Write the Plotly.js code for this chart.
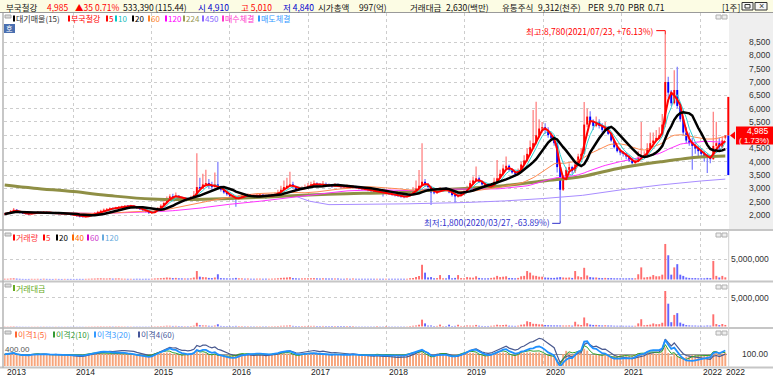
<!DOCTYPE html>
<html><head><meta charset="utf-8">
<script src="https://cdn.plot.ly/plotly-3.0.1.min.js"></script>
<style>html,body{margin:0;padding:0;background:#fff;overflow:hidden;}#chart{width:773px;height:377px;}</style>
</head><body><div id="chart"></div>
<script>
// ---------------- DATA (bi-weekly candles) ----------------
const startDate = '2013-02-15';
const stepDays = 14;
const open = [
2020,2040,2080,2150,2200,2130,2080,2060,2050,2030,2070,2090,2100,2080,2110,2090,2070,2060,2080,2050,2040,2060,2030,
2010,1990,1960,1940,1930,1950,1990,2040,2080,2120,2160,2200,2230,2250,2240,2280,2300,2320,2340,2330,2350,2310,2260,2220,2180,2120,
2080,2090,2150,2250,2350,2450,2600,2700,2680,2720,2650,2600,2620,2600,2650,2750,3050,3000,3150,3200,3100,3050,3150,3000,2950,2850,
2780,2700,2620,2600,2680,2720,2700,2750,2720,2700,2740,2760,2730,2700,2720,2750,2780,2850,2950,3050,3100,3150,3050,2980,2950,3000,
3050,3100,3150,3180,3150,3120,3170,3130,3100,3080,3120,3100,3060,3050,3080,3040,3070,3020,3000,2980,2960,2940,2900,2880,2920,2860,
2830,2850,2800,2780,2750,2720,2700,2680,2720,2800,2900,3000,3100,3250,3150,3050,2850,2820,2900,2950,2960,2950,2850,2750,2700,2720,
2800,2900,3050,3200,3300,3380,3250,3150,3080,3050,3100,3250,3380,3550,3750,3850,3700,3600,3550,3650,3900,4050,4300,4550,4700,5000,
5250,5300,5200,5000,4900,4700,3800,2950,3400,3700,3800,3650,3900,4200,4300,5400,5700,5500,5350,5500,5350,5200,5300,5050,4800,4550,
4400,4350,4300,4200,4050,3950,4000,4150,4200,4250,4500,4700,4800,4900,5000,5400,7000,6600,6200,6700,6100,5600,5100,4800,4700,4600,4500,
4400,4300,4200,4150,4100,4600,4700,4550,4910];
const high = [
2070,2110,2190,2260,2220,2150,2100,2080,2070,2100,2120,2140,2120,2150,2130,2110,2090,2120,2100,2070,2090,2080,2050,
2030,2000,1990,1970,1980,2020,2070,2110,2160,2200,2240,2260,2290,2280,2310,2340,2360,2380,2370,2390,2370,2320,2280,2240,2200,2140,
2120,2200,2300,2400,2520,2700,2780,2800,2850,2750,2700,2680,2660,2720,2900,4320,3400,3550,3700,3350,3250,3600,4000,3100,3000,2900,
2820,2740,2680,2750,2800,2780,2820,2790,2760,2800,2820,2790,2760,2780,2800,2850,2950,3100,3300,3400,3630,3250,3100,3050,3080,3150,
3200,3250,3300,3230,3200,3280,3220,3180,3150,3200,3180,3130,3100,3150,3110,3120,3100,3060,3050,3020,3000,2970,2940,2980,2950,2900,
2900,2880,2850,2820,2800,2760,2740,2780,2900,3050,3300,3690,4700,3350,3200,3100,2950,2980,3050,3000,3050,2980,2880,2800,2800,2900,
2960,3100,3300,3450,3820,3450,3300,3200,3150,3200,3400,4070,3700,3900,4200,3900,3750,3650,3750,4000,4250,4500,4800,5950,6260,5600,
5500,5450,5300,5100,5000,4750,3900,3500,3800,3950,3850,3950,4300,4500,6250,6000,5900,5600,5700,5600,5450,5500,5350,5100,4850,4600,
4500,4400,4350,4250,4150,4100,4400,5500,4400,4700,5100,5100,5200,5300,5800,8780,7200,6700,7440,7570,6200,5700,5300,5100,4900,4700,4600,
4500,4400,4300,4250,5880,5510,4900,4950,5010];
const low = [
2000,2030,2070,2130,2110,2060,2040,2020,2000,2020,2050,2070,2050,2070,2070,2040,2030,2050,2020,2010,2030,2000,1980,
1970,1930,1910,1900,1910,1940,1980,2030,2060,2100,2140,2180,2210,2200,2220,2260,2280,2300,2290,2300,2280,2230,2190,2150,2090,2040,
2040,2080,2140,2230,2320,2430,2580,2620,2650,2600,2550,2560,2560,2580,2630,2740,2900,2980,3100,3000,2950,3030,2950,2880,2800,2720,
2650,2550,2310,2580,2650,2660,2680,2680,2640,2680,2710,2680,2600,2670,2700,2730,2760,2830,2930,3000,3050,3000,2900,2900,2930,2980,
3030,3080,3100,3080,3050,3100,3080,3050,3020,3060,3050,3000,2990,3030,2990,3020,2980,2960,2940,2920,2890,2850,2820,2860,2820,2700,
2780,2750,2720,2700,2680,2650,2630,2660,2700,2780,2880,2980,3080,3050,2950,2380,2780,2800,2880,2880,2900,2820,2700,2450,2660,2700,
2780,2880,3020,3150,3250,3200,3100,3020,3000,3030,3080,3230,3350,3500,3700,3650,3550,3450,3530,3620,3880,4000,4250,4500,4650,4900,
5100,5050,4900,4800,4600,3600,1800,2900,3350,3600,3550,3580,3850,4100,4280,5300,5400,5200,5300,5250,5100,5150,5000,4750,4500,4350,
4250,4200,4100,4000,3900,3820,3980,4100,4150,4200,4450,4650,4750,4850,4950,5300,6400,6100,6150,6000,5500,5000,4700,4600,3700,4300,4200,
4150,4000,3580,3950,4080,4500,4400,4500,4840];
const close = [
2040,2080,2150,2200,2130,2080,2060,2050,2030,2070,2090,2100,2080,2110,2090,2070,2060,2080,2050,2040,2060,2030,2010,
1990,1960,1940,1930,1950,1990,2040,2080,2120,2160,2200,2230,2250,2240,2280,2300,2320,2340,2330,2350,2310,2260,2220,2180,2120,2080,
2090,2150,2250,2350,2450,2600,2700,2680,2720,2650,2600,2620,2600,2650,2750,3050,3000,3150,3200,3100,3050,3150,3000,2950,2850,2780,
2700,2620,2600,2680,2720,2700,2750,2720,2700,2740,2760,2730,2700,2720,2750,2780,2850,2950,3050,3100,3150,3050,2980,2950,3000,3050,
3100,3150,3180,3150,3120,3170,3130,3100,3080,3120,3100,3060,3050,3080,3040,3070,3020,3000,2980,2960,2940,2900,2880,2920,2860,2830,
2850,2800,2780,2750,2720,2700,2680,2720,2800,2900,3000,3100,3250,3150,3050,2850,2820,2900,2950,2960,2950,2850,2750,2700,2720,2800,
2900,3050,3200,3300,3380,3250,3150,3080,3050,3100,3250,3380,3550,3750,3850,3700,3600,3550,3650,3900,4050,4300,4550,4700,5000,5250,
5300,5200,5000,4900,4700,3800,2950,3400,3700,3800,3650,3900,4200,4300,5400,5700,5500,5350,5500,5350,5200,5300,5050,4800,4550,4400,
4350,4300,4200,4050,3950,4000,4150,4200,4250,4500,4700,4800,4900,5000,5400,7000,6600,6200,6700,6100,5600,5100,4800,4700,4600,4500,4400,
4300,4200,4150,4100,4600,4700,4550,4800,4985];
const volumeK = [
180,200,260,300,220,180,150,140,150,170,160,180,150,200,160,150,140,170,150,140,160,150,150,
140,150,160,150,170,190,220,240,280,300,260,250,300,220,260,280,220,200,180,180,170,190,180,170,190,180,
200,260,300,350,400,500,450,350,400,300,280,260,250,300,500,2100,700,600,550,400,350,500,1300,350,300,280,
260,280,400,300,280,220,250,200,200,220,230,200,220,200,220,250,300,400,450,500,600,350,300,250,280,300,
300,320,350,280,250,300,260,250,230,260,240,220,210,240,210,230,200,200,190,190,180,200,190,220,200,200,
220,200,190,190,180,180,180,220,300,400,600,900,3650,1700,500,600,300,350,1100,300,280,1100,300,400,1100,350,
300,600,500,450,800,400,300,280,300,400,500,900,600,700,800,400,350,300,400,800,900,2100,1700,1000,900,700,
700,500,450,400,400,500,600,500,450,500,400,2100,800,600,2900,1000,600,500,500,400,350,400,350,350,300,300,
300,280,280,300,300,300,1300,3000,500,600,700,1100,800,800,1200,8800,6000,1200,3000,3800,1200,900,500,400,350,350,300,
300,300,400,350,4600,900,500,900,533];
// long moving averages
const ma224Dates = ['2013-02-15','2013-07-01','2014-01-01','2014-07-01','2015-01-01','2015-07-01','2016-01-01','2016-07-01','2017-01-01','2017-07-01','2018-01-01','2018-07-01','2019-01-01','2019-07-01','2020-01-01','2020-07-01','2021-01-01','2021-07-01','2022-01-01','2022-04-29'];
const ma224Values = [3130,3010,2880,2720,2600,2580,2620,2680,2750,2800,2840,2920,3000,3100,3280,3450,3780,4000,4180,4220];
const ma450Dates = ['2016-11-04','2017-01-06','2017-04-07','2017-10-06','2018-04-06','2019-01-04','2019-07-05','2020-01-03','2020-07-03','2021-01-01','2021-07-02','2022-01-07','2022-04-29'];
const ma450Values = [2700,2520,2390,2400,2420,2470,2530,2620,2740,2950,3130,3280,3350];
const xLabelDates = ['2013-02-12','2014-01-01','2015-01-01','2016-01-01','2017-01-01','2018-01-01','2019-01-01','2020-01-01','2021-01-01','2022-01-01','2022-04-22'];
const xLabelTexts = ['2013','2014','2015','2016','2017','2018','2019','2020','2021','2022','2022'];
const priceTicks = [2000,2500,3000,3500,4000,4500,5000,5500,6000,6500,7000,7500,8000,8500];
const rangeBar = [3500, 6440];
const highLabel = '최고:8,780(2021/07/23, +76.13%)';
const lowLabel = '최저:1,800(2020/03/27, -63.89%)';
const headerItems = [
  ['부국철강',6,'#111'],['4,985',47,'#f00'],['▲35',75,'#f00'],['0.71%',95,'#f00'],
  ['533,390',123,'#111'],['(115.44)',155,'#111'],['시 4,910',198,'#00c'],['고 5,010',241,'#f00'],
  ['저 4,840',283,'#00c'],['시가총액',318,'#111'],['997(억)',359,'#111'],['거래대금',410,'#111'],
  ['2,630(백만)',446,'#111'],['유통주식',502,'#111'],['9,312(천주)',538,'#111'],['PER',588,'#111'],
  ['9.70',608,'#111'],['PBR',628,'#111'],['0.71',648,'#111'],['[1주]',722,'#111']];
const mainLegend = [['대기매물(15)','#000','#333',13],['부국철강','#f00','#f00',68],['5','#f00','#f00',106],['10','#00c8c8','#20bcbc',115],['20','#000','#000',132],['60','#ff7f27','#ff7f27',148],['120','#ff00ff','#ff00ff',165],['224','#999955','#999955',183],['450','#8866ff','#8866ff',202],['매수체결','#ff33cc','#ff33cc',222],['매도체결','#3399ff','#3399ff',258]];
const volLegend = [['거래량','#f00','#f33',13],['5','#f00','#f33',43],['20','#000','#000',56],['40','#ff6600','#ff6600',72],['60','#cc00cc','#cc33cc',87],['120','#66aadd','#66aadd',102]];
const amtLegend = [['거래대금','#66aa22','#66aa22',13]];
const oscLegend = [['이격1(5)','#ff6633','#ff6633',15],['이격2(10)','#339933','#339933',53],['이격3(20)','#3399ff','#3399ff',94],['이격4(60)','#445599','#445599',138]];

// ---------------- helpers ----------------
const W=773,H=377;
const px=x=>x/W, py=y=>1-y/H;
const KR="'Noto Sans CJK KR', 'Noto Sans', sans-serif";
const NUM="'Liberation Sans', Arial, sans-serif";
function addDays(s,n){const d=new Date(s+'T00:00:00Z');d.setUTCDate(d.getUTCDate()+n);return d.toISOString().slice(0,10);}
const dates = close.map((_,i)=>addDays(startDate,i*stepDays));
function sma(arr,n){return arr.map((_,i)=>{const s=Math.max(0,i-n+1);let t=0;for(let k=s;k<=i;k++)t+=arr[k];return t/(i-s+1);});}
const DAY=86400000;
const up = close.map((c,i)=>c>=open[i]);
const volume = volumeK.map(v=>v*1000);
const amount = volume.map((v,i)=>v*close[i]/10000);
const ma5=sma(close,3), ma10=sma(close,5), ma20=sma(close,10), ma60=sma(close,30), ma120=sma(close,60);
const d1=close.map((c,i)=>c/ma5[i]*100), d2=close.map((c,i)=>c/ma10[i]*100), d3=close.map((c,i)=>c/ma20[i]*100), d4=close.map((c,i)=>c/ma60[i]*100);
const last=close.length-1, lastClose=close[last];
let iMax=0,iMin=0; high.forEach((h,i)=>{if(h>high[iMax])iMax=i;}); low.forEach((l,i)=>{if(l<low[iMin])iMin=i;});

const traces=[
 {type:'bar',x:dates,base:low,y:high.map((h,i)=>h-low[i]),width:6*DAY,marker:{color:up.map(u=>u?'#ff8080':'#8080ff'),line:{width:0}},xaxis:'x',yaxis:'y'},
 {type:'bar',x:dates,base:open.map((o,i)=>Math.min(o,close[i])),y:open.map((o,i)=>Math.max(Math.abs(close[i]-o),25)),width:9*DAY,marker:{color:up.map(u=>u?'#ff0000':'#0000ff'),line:{width:0}},xaxis:'x',yaxis:'y'},
 {type:'scatter',mode:'lines',x:ma450Dates,y:ma450Values,line:{color:'#a88cff',width:1},xaxis:'x',yaxis:'y'},
 {type:'scatter',mode:'lines',x:ma224Dates,y:ma224Values,line:{color:'#8f8f45',width:3,shape:'spline'},xaxis:'x',yaxis:'y'},
 {type:'scatter',mode:'lines',x:dates,y:ma120,line:{color:'#ff33ff',width:1},xaxis:'x',yaxis:'y'},
 {type:'scatter',mode:'lines',x:dates,y:ma60,line:{color:'#ff8a50',width:1},xaxis:'x',yaxis:'y'},
 {type:'scatter',mode:'lines',x:dates,y:ma10,line:{color:'#30d0d0',width:1},xaxis:'x',yaxis:'y'},
 {type:'scatter',mode:'lines',x:dates,y:ma5,line:{color:'#ff0000',width:2},xaxis:'x',yaxis:'y'},
 {type:'scatter',mode:'lines',x:dates,y:ma20,line:{color:'#000000',width:2.5},xaxis:'x',yaxis:'y'},
 {type:'bar',x:dates,y:volume,width:9*DAY,marker:{color:up.map(u=>u?'#ff6e6e':'#6464ff'),line:{width:0}},xaxis:'x2',yaxis:'y2'},
 {type:'bar',x:dates,y:amount,width:9*DAY,marker:{color:up.map(u=>u?'#ff6e6e':'#6464ff'),line:{width:0}},xaxis:'x3',yaxis:'y3'},
 {type:'bar',x:dates,y:d1,width:9*DAY,marker:{color:'#f7a57c',line:{width:0}},xaxis:'x4',yaxis:'y4'},
 {type:'scatter',mode:'lines',x:dates,y:d4,line:{color:'#4a5a90',width:1.2},xaxis:'x4',yaxis:'y4'},
 {type:'scatter',mode:'lines',x:dates,y:d2,line:{color:'#2ca02c',width:1},xaxis:'x4',yaxis:'y4'},
 {type:'scatter',mode:'lines',x:dates,y:d3,line:{color:'#1e90ff',width:1.8},xaxis:'x4',yaxis:'y4'}
];

const xStart='2013-02-11 21:00', xEnd='2022-05-06 21:00';
const xBase=()=>({type:'date',range:[xStart,xEnd],domain:[px(4),px(727)],showgrid:true,gridcolor:'#cdcdcd',griddash:'dot',gridwidth:1,tick0:'2014-01-01',dtick:'M12',showticklabels:false,ticks:'',zeroline:false,showline:false,fixedrange:true});
const yBase=()=>({side:'right',showgrid:true,gridcolor:'#cdcdcd',griddash:'dot',zeroline:false,ticks:'',showline:false,fixedrange:true,tickfont:{family:NUM,size:8.5,color:'#333'}});

const shapes=[];
const rect=(x0,y0,x1,y1,fill,line,layer)=>shapes.push({type:'rect',xref:'paper',yref:'paper',x0:px(x0),x1:px(x1),y0:py(y1),y1:py(y0),fillcolor:fill,line:line?{color:line,width:1}:{width:0},layer:layer||'above'});
const hl=(x0,x1,y,c,w)=>shapes.push({type:'line',xref:'paper',yref:'paper',x0:px(x0),x1:px(x1),y0:py(y),y1:py(y),line:{color:c,width:w}});
const vl=(x,y0,y1,c,w)=>shapes.push({type:'line',xref:'paper',yref:'paper',x0:px(x),x1:px(x),y0:py(y0),y1:py(y1),line:{color:c,width:w}});
rect(0,0,773,12,'#fcfce4',null,'below');
rect(729,13,773,229,'#efefef',null,'below');
hl(0,773,12.5,'#9a9a9a',1);
hl(0,773,230,'#c6c6c6',2); hl(0,773,281.5,'#c6c6c6',2); hl(0,773,328,'#c6c6c6',2); hl(0,773,367.5,'#c6c6c6',2);
vl(3,13,368,'#b4b4b4',1.5); vl(728.7,230,367,'#d0d0d0',1);
[15,233,284,331].forEach(y=>rect(5,y,11,y+3,'#dcdcdc','#a8a8a8'));
[15,233,285,331].forEach(y=>{rect(716,y,721,y+4,'#eeeeee','#b0b0b0');rect(722,y,727,y+4,'#eeeeee','#b0b0b0');});
rect(742,2.5,753,10,'#f6f6f6','#333'); rect(745,4.5,750,8,'rgba(0,0,0,0)','#333'); rect(755,2.5,767,10,'#f6f6f6','#333');
rect(4,24,15,33,'#4a6fb0',null);
const legendRow=(items,y)=>items.forEach(it=>rect(it[3],y-3,it[3]+2,y+3,it[1],null));
legendRow(mainLegend,18.5); legendRow(volLegend,237.5); legendRow(amtLegend,288); legendRow(oscLegend,334.5);
// current-price range bar, arrow and box
shapes.push({type:'rect',xref:'paper',yref:'y',x0:px(727.3),x1:px(729.3),y0:lastClose,y1:rangeBar[1],fillcolor:'#ff0000',line:{width:0}});
shapes.push({type:'rect',xref:'paper',yref:'y',x0:px(727.3),x1:px(729.3),y0:rangeBar[0],y1:lastClose,fillcolor:'#0000ff',line:{width:0}});
shapes.push({type:'path',xref:'paper',yref:'y',xsizemode:'pixel',xanchor:px(730),ysizemode:'pixel',yanchor:lastClose,path:'M0,0 L5,4 L5,-4 Z',fillcolor:'#ff0000',line:{width:0}});
shapes.push({type:'rect',xref:'paper',yref:'y',x0:px(736),x1:px(773),ysizemode:'pixel',yanchor:lastClose,y0:-9,y1:9,fillcolor:'#ff0000',line:{width:0}});
// high / low brackets
const br=(xa,ya,x0,x1,y0,y1,c)=>shapes.push({type:'line',xref:'x',yref:'y',xsizemode:'pixel',xanchor:xa,ysizemode:'pixel',yanchor:ya,x0,x1,y0,y1,line:{color:c,width:1}});
br(dates[iMax],high[iMax],-9,0,4,4,'#f00'); br(dates[iMax],high[iMax],0,0,4,0,'#f00');
br(dates[iMin],low[iMin],-8,0,-3,-3,'#33c'); br(dates[iMin],low[iMin],0,0,-3,0,'#33c');

const ann=[];
const T=(x,y,text,color,size,anchor,family)=>ann.push({xref:'paper',yref:'paper',x:px(x),y:py(y),text,showarrow:false,xanchor:anchor||'left',yanchor:'middle',borderpad:0,borderwidth:0,font:{family:family||KR,size:size||8.5,color}});
headerItems.forEach(h=>T(h[1],6.5,h[0],h[2],8.5));
T(761,6.3,'×','#333',9,'center',NUM);
T(9.5,28.5,'호','#fff',7,'center');
const legendText=(items,y)=>items.forEach(it=>T(it[3]+3,y,it[0],it[2],8));
legendText(mainLegend,18.5); legendText(volLegend,237.5); legendText(amtLegend,288); legendText(oscLegend,334.5);
T(5,349,'400.00','#555',8,'left',NUM);
xLabelDates.forEach((d,i)=>ann.push({xref:'x',yref:'paper',x:d,y:py(372),text:xLabelTexts[i],showarrow:false,xanchor:'left',yanchor:'middle',xshift:1.5,borderpad:0,font:{family:NUM,size:8.5,color:'#222'}}));
ann.push({xref:'x',yref:'y',x:dates[iMax],y:high[iMax],text:highLabel,showarrow:false,xanchor:'right',yanchor:'middle',xshift:-10,yshift:4,borderpad:0,font:{family:KR,size:8.5,color:'#f00'}});
ann.push({xref:'x',yref:'y',x:dates[iMin],y:low[iMin],text:lowLabel,showarrow:false,xanchor:'right',yanchor:'middle',xshift:-9,yshift:-2,borderpad:0,font:{family:KR,size:8.5,color:'#33c'}});
ann.push({xref:'paper',yref:'y',x:px(770),y:lastClose,yshift:4.5,text:lastClose.toLocaleString('en-US'),showarrow:false,xanchor:'right',yanchor:'middle',borderpad:0,font:{family:NUM,size:8.5,color:'#fff'}});
ann.push({xref:'paper',yref:'y',x:px(771),y:lastClose,yshift:-4.5,text:'( 1.73%)',showarrow:false,xanchor:'right',yanchor:'middle',borderpad:0,font:{family:NUM,size:8,color:'#fff'}});

const layout={
 width:W,height:H,margin:{l:0,r:0,t:0,b:0},paper_bgcolor:'#ffffff',plot_bgcolor:'rgba(0,0,0,0)',
 showlegend:false,barmode:'overlay',hovermode:false,
 xaxis:Object.assign(xBase(),{anchor:'y'}),
 xaxis2:Object.assign(xBase(),{anchor:'y2',matches:'x'}),
 xaxis3:Object.assign(xBase(),{anchor:'y3',matches:'x'}),
 xaxis4:Object.assign(xBase(),{anchor:'y4',matches:'x'}),
 yaxis:Object.assign(yBase(),{anchor:'x',domain:[py(229),py(13)],range:[1474,9594],tickvals:priceTicks,ticktext:priceTicks.map(v=>v===5000?'':v.toLocaleString('en-US')),ticklabelstandoff:21}),
 yaxis2:Object.assign(yBase(),{anchor:'x2',domain:[py(280),py(232)],range:[-120000,11760000],tickvals:[5000000],ticktext:['5,000,000'],ticklabelstandoff:3}),
 yaxis3:Object.assign(yBase(),{anchor:'x3',domain:[py(327),py(283)],range:[-90000,7550000],tickvals:[5000000],ticktext:['5,000,000'],ticklabelstandoff:3}),
 yaxis4:Object.assign(yBase(),{anchor:'x4',domain:[py(366),py(331)],range:[64.9,169.9],tickvals:[100],ticktext:['100.00'],griddash:'solid',gridcolor:'#9a9a9a',ticklabelstandoff:14}),
 shapes:shapes,annotations:ann
};
Plotly.newPlot('chart',traces,layout,{staticPlot:true,displayModeBar:false});
</script></body></html>
